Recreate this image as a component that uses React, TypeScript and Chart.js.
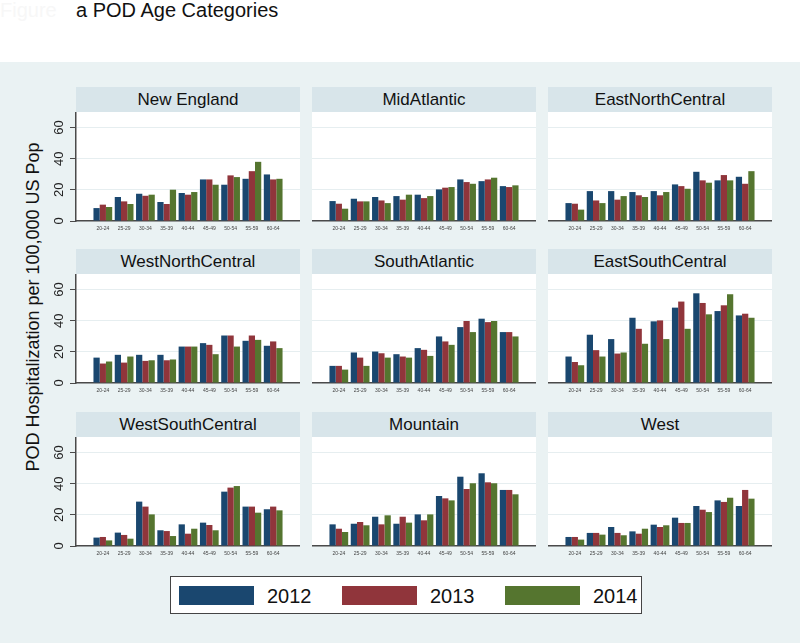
import React, { useEffect, useRef } from 'react';
import { Chart, registerables } from 'chart.js';

Chart.register(...registerables);

const FONT = '"Liberation Sans", Arial, Helvetica, sans-serif';

const ageGroups = ['20-24', '25-29', '30-34', '35-39', '40-44', '45-49', '50-54', '55-59', '60-64'];
const years = ['2012', '2013', '2014'];
const yearColors = ['#1A476F', '#90353B', '#55752F'];
const regions = [
  'New England', 'MidAtlantic', 'EastNorthCentral',
  'WestNorthCentral', 'SouthAtlantic', 'EastSouthCentral',
  'WestSouthCentral', 'Mountain', 'West',
];
const yTicks = [0, 20, 40, 60];

const newEngland2012 = [8.3, 15.4, 17.5, 12.2, 18.0, 26.7, 23.3, 27.1, 29.9];
const newEngland2013 = [10.5, 12.6, 16.2, 10.9, 16.9, 26.7, 29.3, 32.0, 26.7];
const newEngland2014 = [9.0, 10.9, 16.9, 20.1, 18.6, 23.3, 28.2, 38.0, 27.1];

const midAtlantic2012 = [12.8, 14.3, 15.4, 16.0, 16.9, 20.3, 26.7, 25.6, 22.4];
const midAtlantic2013 = [11.1, 12.6, 13.2, 13.7, 14.7, 21.4, 25.0, 26.7, 21.8];
const midAtlantic2014 = [7.9, 12.6, 11.5, 16.9, 16.0, 21.8, 23.9, 27.8, 22.9];

const eastNorthCentral2012 = [11.5, 19.2, 19.2, 18.6, 19.2, 23.5, 31.6, 26.1, 28.4];
const eastNorthCentral2013 = [11.1, 13.2, 13.7, 16.5, 16.5, 22.4, 26.1, 29.5, 23.9];
const eastNorthCentral2014 = [7.3, 11.5, 16.0, 15.4, 18.6, 20.7, 24.6, 26.1, 32.0];

const westNorthCentral2012 = [16.3, 18.1, 18.1, 18.1, 23.4, 25.6, 30.5, 27.1, 23.9];
const westNorthCentral2013 = [12.5, 13.1, 14.2, 14.6, 23.4, 24.5, 30.5, 30.5, 26.7];
const westNorthCentral2014 = [13.8, 17.0, 14.6, 15.1, 23.4, 18.5, 23.4, 27.7, 22.4];

const southAtlantic2012 = [11.0, 19.6, 20.2, 18.5, 22.4, 29.9, 35.9, 41.3, 32.7];
const southAtlantic2013 = [11.0, 16.3, 19.1, 17.0, 21.3, 26.7, 39.8, 39.1, 32.7];
const southAtlantic2014 = [8.6, 11.0, 16.3, 16.3, 17.4, 24.5, 32.7, 39.8, 29.9];

const eastSouthCentral2012 = [17.0, 31.0, 28.2, 41.9, 39.6, 48.4, 57.6, 46.2, 43.4];
const eastSouthCentral2013 = [13.5, 21.1, 18.9, 34.8, 40.2, 52.3, 51.4, 49.9, 44.5];
const eastSouthCentral2014 = [11.4, 17.0, 19.6, 25.2, 28.2, 34.8, 44.1, 57.0, 41.9];

const westSouthCentral2012 = [5.4, 8.6, 28.5, 10.1, 13.9, 15.0, 34.9, 25.3, 23.6];
const westSouthCentral2013 = [5.8, 7.1, 25.3, 9.6, 7.9, 13.5, 37.5, 25.3, 25.3];
const westSouthCentral2014 = [3.6, 4.7, 20.3, 6.4, 11.1, 10.1, 38.5, 21.4, 22.9];

const mountain2012 = [13.9, 14.3, 18.8, 14.3, 20.3, 32.1, 44.5, 46.7, 36.0];
const mountain2013 = [11.1, 15.4, 13.9, 18.8, 16.5, 30.6, 36.6, 40.9, 36.0];
const mountain2014 = [9.0, 13.3, 19.7, 15.0, 20.3, 29.3, 40.3, 40.3, 33.2];

const west2012 = [5.8, 8.4, 12.2, 9.4, 13.7, 18.2, 25.7, 29.3, 25.7];
const west2013 = [5.8, 8.4, 8.4, 7.9, 12.2, 14.8, 23.3, 28.3, 36.0];
const west2014 = [4.1, 7.3, 6.9, 11.1, 13.3, 14.8, 21.8, 31.0, 30.4];

const regionSeries = [
  [newEngland2012, newEngland2013, newEngland2014],
  [midAtlantic2012, midAtlantic2013, midAtlantic2014],
  [eastNorthCentral2012, eastNorthCentral2013, eastNorthCentral2014],
  [westNorthCentral2012, westNorthCentral2013, westNorthCentral2014],
  [southAtlantic2012, southAtlantic2013, southAtlantic2014],
  [eastSouthCentral2012, eastSouthCentral2013, eastSouthCentral2014],
  [westSouthCentral2012, westSouthCentral2013, westSouthCentral2014],
  [mountain2012, mountain2013, mountain2014],
  [west2012, west2013, west2014],
];

const COL_X = [76, 312, 548];
const HEADER_Y = [87, 249, 412];
const PANEL_W = 224;
const HEADER_H = 25;
const PLOT_H = 109;
const XAXIS_H = 14;
const YAXIS_W = 30;

const yLabelPlugin = {
  id: 'rotatedYLabels',
  afterDraw(chart: any) {
    const { ctx, chartArea } = chart;
    const y = chart.scales.y;
    ctx.save();
    ctx.font = `13px ${FONT}`;
    ctx.fillStyle = '#222222';
    ctx.textAlign = 'center';
    ctx.textBaseline = 'middle';
    yTicks.forEach((v) => {
      const py = y.getPixelForValue(v);
      ctx.save();
      ctx.translate(chartArea.left - 17, py);
      ctx.rotate(-Math.PI / 2);
      ctx.fillText(String(v), 0, 0);
      ctx.restore();
    });
    ctx.restore();
  },
};

function Panel({ index }: { index: number }) {
  const ref = useRef<HTMLCanvasElement>(null);
  const col = index % 3;
  const row = Math.floor(index / 3);
  const first = col === 0;
  const left = COL_X[col];
  const headerTop = HEADER_Y[row];
  const plotTop = headerTop + HEADER_H;
  const canvasLeft = first ? left - YAXIS_W : left;
  const canvasW = first ? PANEL_W + YAXIS_W : PANEL_W;
  const canvasH = PLOT_H + XAXIS_H;

  useEffect(() => {
    const chart = new Chart(ref.current as HTMLCanvasElement, {
      type: 'bar',
      data: {
        datasets: years.map((yr, k) => ({
          label: yr,
          data: regionSeries[index][k].map((v, i) => ({ x: i, y: v })),
          backgroundColor: yearColors[k],
          borderWidth: 0,
          categoryPercentage: 0.88,
          barPercentage: 1,
        })),
      },
      options: {
        animation: false,
        responsive: false,
        maintainAspectRatio: false,
        layout: { padding: 0 },
        plugins: {
          legend: { display: false },
          tooltip: { enabled: false },
          title: { display: false },
        },
        scales: {
          x: {
            type: 'linear',
            min: -1.26,
            max: 9.26,
            offset: false,
            afterFit: (s: any) => { s.height = XAXIS_H; },
            grid: { display: false, drawTicks: false, offset: false },
            border: { display: true, color: '#4a4a4a', width: 1.5 },
            ticks: {
              stepSize: 1,
              includeBounds: false,
              autoSkip: false,
              maxRotation: 0,
              minRotation: 0,
              padding: 5,
              color: '#444444',
              font: { size: 5, family: FONT },
              callback: (v: any) => {
                const n = Number(v);
                if (Math.abs(n - Math.round(n)) > 1e-6) return '';
                return ageGroups[Math.round(n)] ?? '';
              },
            },
          },
          y: {
            min: 0,
            max: 70,
            afterFit: (s: any) => { s.width = first ? YAXIS_W : 0; },
            grid: {
              color: '#E6EEF0',
              lineWidth: 1,
              drawTicks: first,
              tickLength: 6,
              tickColor: '#4a4a4a',
            },
            border: { display: first, color: '#4a4a4a', width: 1.5 },
            ticks: { display: false, stepSize: 20, includeBounds: false },
          },
        },
      } as any,
      plugins: first ? [yLabelPlugin] : [],
    });
    return () => chart.destroy();
  }, []);

  return (
    <>
      <div
        style={{
          position: 'absolute', left, top: headerTop, width: PANEL_W, height: HEADER_H,
          background: '#D8E5EA', color: '#111', fontFamily: FONT, fontSize: 17,
          lineHeight: `${HEADER_H}px`, textAlign: 'center', whiteSpace: 'nowrap',
        }}
      >
        {regions[index]}
      </div>
      <div style={{ position: 'absolute', left, top: plotTop, width: PANEL_W, height: PLOT_H, background: '#ffffff' }} />
      <canvas
        ref={ref}
        width={canvasW}
        height={canvasH}
        style={{ position: 'absolute', left: canvasLeft, top: plotTop, width: canvasW, height: canvasH }}
      />
    </>
  );
}

export default function App() {
  return (
    <div style={{ position: 'absolute', left: 0, top: 0, width: 800, height: 643, background: '#ffffff', overflow: 'hidden', fontFamily: FONT }}>
      <div style={{ position: 'absolute', left: 0, top: 62, width: 800, height: 581, background: '#EAF2F3' }} />
      <div style={{ position: 'absolute', left: 0, top: 0, fontSize: 20, lineHeight: '20px', color: '#f7f7f7', whiteSpace: 'nowrap' }}>Figure</div>
      <div style={{ position: 'absolute', left: 76, top: 0, fontSize: 20, lineHeight: '20px', color: '#111', whiteSpace: 'nowrap' }}>a POD Age Categories</div>
      <div
        style={{
          position: 'absolute', left: 33 - 200, top: 307 - 11, width: 400, height: 22,
          lineHeight: '22px', fontSize: 18, color: '#111', textAlign: 'center',
          transform: 'rotate(-90deg)', whiteSpace: 'nowrap',
        }}
      >
        POD Hospitalization per 100,000 US Pop
      </div>
      {regions.map((_, i) => <Panel key={i} index={i} />)}
      <div
        style={{
          position: 'absolute', left: 170, top: 576, width: 470, height: 36,
          background: '#ffffff', border: '1px solid #444',
        }}
      >
        {years.map((yr, k) => (
          <React.Fragment key={yr}>
            <div style={{ position: 'absolute', left: 8 + 163 * k, top: 9, width: 75, height: 19, background: yearColors[k] }} />
            <div style={{ position: 'absolute', left: 96 + 163 * k, top: 7, fontSize: 20, lineHeight: '24px', color: '#111' }}>{yr}</div>
          </React.Fragment>
        ))}
      </div>
    </div>
  );
}
